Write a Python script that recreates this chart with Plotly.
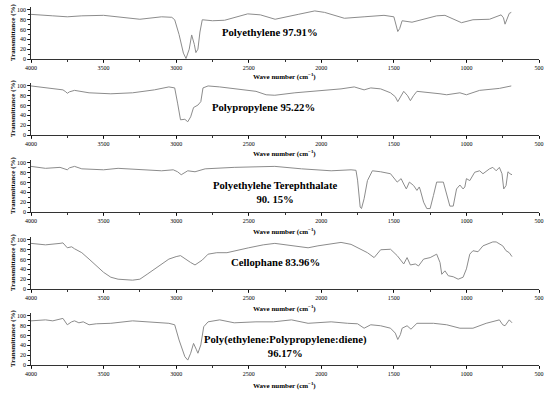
import plotly.graph_objects as go

# ---------------- data ----------------
pe_wn = [4000, 3900, 3850, 3750, 3650, 3500, 3400, 3250, 3100, 3030, 3010, 2980, 2950, 2932, 2910, 2893, 2875, 2864, 2850, 2836, 2820, 2750, 2666, 2600, 2507, 2420, 2350,
         2318, 2159, 2045, 1977, 1841, 1705, 1568, 1500, 1485, 1473, 1460, 1443, 1375, 1205, 1148, 1034, 955, 841, 761, 745, 734, 720, 705, 691]
pe_t = [91, 90, 88, 86, 88, 89, 86, 81, 86, 85, 80, 50, 12, 1, 20, 49, 30, 13, 20, 55, 80, 78, 79, 84, 92, 90, 84,
        81, 91, 98, 95, 83, 86, 89, 86, 72, 56, 62, 78, 75, 88, 89, 74, 80, 81, 90, 84, 71, 80, 93, 95]

pp_wn = [4000, 3900, 3830, 3780, 3760, 3750, 3735, 3700, 3600, 3450, 3300, 3150, 3050, 3010, 2990, 2970, 2940, 2920, 2900, 2880, 2850, 2830, 2815, 2780, 2700, 2600, 2450, 2380, 2320,
         2182, 2091, 1864, 1773, 1705, 1659, 1591, 1523, 1490, 1473, 1455, 1432, 1405, 1386, 1365, 1341, 1182, 1136, 1045, 1000, 909, 773, 691]
pp_t = [100, 96, 93, 92, 88, 85, 88, 91, 86, 84, 86, 92, 98, 96, 65, 31, 32, 27, 37, 56, 61, 68, 96, 100, 98, 94, 89, 82, 81,
        86, 88, 94, 98, 92, 96, 94, 86, 78, 68, 78, 89, 80, 70, 80, 89, 84, 82, 86, 82, 91, 95, 100]

pet_wn = [4000, 3900, 3800, 3765, 3750, 3735, 3700, 3650, 3500, 3400, 3250, 3100, 3020, 2990, 2965, 2940, 2920, 2870, 2800, 2600, 2400, 2320,
          2136, 1932, 1795, 1761, 1750, 1740, 1732, 1723, 1705, 1682, 1648, 1591, 1523, 1477, 1450, 1432, 1414, 1393, 1364, 1341, 1325, 1318, 1295, 1273, 1250, 1227, 1205, 1159,
          1136, 1114, 1091, 1068, 1045, 1023, 1011, 1000, 977, 943, 909, 886, 841, 818, 795, 773, 755, 743, 727, 714, 700, 686]
pet_t = [93, 89, 91, 88, 86, 90, 93, 88, 86, 89, 86, 84, 86, 82, 76, 80, 84, 82, 88, 91, 93, 93,
         88, 84, 86, 85, 65, 30, 10, 7, 27, 64, 84, 82, 78, 61, 68, 57, 47, 61, 54, 44, 51, 45, 20, 7, 7, 34, 61, 61,
         34, 12, 12, 47, 55, 47, 51, 68, 64, 81, 84, 78, 88, 91, 84, 91, 78, 47, 54, 82, 78, 76]

cel_wn = [4000, 3900, 3800, 3780, 3750, 3720, 3700, 3650, 3600, 3550, 3500, 3450, 3400, 3300, 3250, 3200, 3100, 3050, 3000, 2970, 2900, 2870, 2820, 2780, 2720, 2650, 2500, 2400, 2320,
          2182, 2091, 2023, 1864, 1795, 1750, 1682, 1636, 1591, 1523, 1477, 1432, 1409, 1386, 1352, 1330, 1295, 1250, 1205, 1182, 1170, 1148, 1125, 1091, 1057, 1023, 1000, 977, 955, 920, 886, 818, 795, 750, 727, 705, 686]
cel_t = [93, 90, 93, 94, 84, 86, 82, 74, 61, 47, 34, 24, 20, 18, 20, 30, 51, 61, 66, 68, 54, 49, 59, 71, 74, 74, 84, 90, 93,
         88, 84, 88, 95, 91, 84, 74, 64, 80, 81, 68, 51, 64, 49, 51, 47, 61, 64, 71, 54, 30, 37, 27, 25, 20, 24, 41, 71, 78, 76, 88, 96, 96, 88, 78, 74, 66]

epdm_wn = [4000, 3900, 3850, 3780, 3750, 3720, 3700, 3670, 3640, 3600, 3550, 3450, 3300, 3200, 3050, 3010, 2980, 2940, 2920, 2900, 2880, 2860, 2850, 2830, 2810, 2780, 2700, 2600, 2450, 2330,
           2205, 2091, 1932, 1818, 1750, 1705, 1659, 1591, 1523, 1490, 1473, 1455, 1443, 1409, 1382, 1341, 1227, 1136, 1045, 955, 864, 773, 750, 734, 705, 686]
epdm_t = [90, 92, 90, 95, 82, 88, 90, 86, 88, 82, 84, 85, 90, 88, 85, 82, 51, 17, 10, 24, 44, 31, 24, 41, 78, 88, 92, 86, 88, 88,
          92, 85, 88, 85, 84, 75, 82, 80, 75, 65, 52, 62, 75, 80, 73, 85, 85, 82, 75, 75, 85, 92, 82, 80, 92, 86]

x_ticks = [4000, 3500, 3000, 2500, 2000, 1500, 1000, 500]
y_ticks = [0, 20, 40, 60, 80, 100]

series = [
    (pe_wn, pe_t),
    (pp_wn, pp_t),
    (pet_wn, pet_t),
    (cel_wn, cel_t),
    (epdm_wn, epdm_t),
]
labels = [
    "Polyethylene 97.91%",
    "Polypropylene 95.22%",
    "Polyethylehe Terephthalate<br>90. 15%",
    "Cellophane 83.96%",
    "Poly(ethylene:Polypropylene:diene)<br>96.17%",
]

# ---------------- layout geometry (pixels) ----------------
W, H = 550, 394
L, R = 31, 11
zero_px = [59, 135, 212, 289, 365]
top_px = [7, 83, 160, 237, 313]
label_px = [(270, 32), (263, 107), (275, 192), (275, 262), (285, 346)]
title_px = [77, 154, 231, 308, 385]

FONT = "Liberation Serif, Times New Roman, serif"
LINE_COLOR = "#8c8c8c"

def fx(px):
    return (px - L) / (W - L - R)

def fy(py):
    return 1 - py / H

fig = go.Figure()
annotations = []
for i, (wn, t) in enumerate(series):
    n = i + 1
    xa = "x" if n == 1 else f"x{n}"
    ya = "y" if n == 1 else f"y{n}"
    fig.add_trace(go.Scatter(x=wn, y=t, mode="lines", xaxis=xa, yaxis=ya,
                             line=dict(color=LINE_COLOR, width=1), showlegend=False,
                             hoverinfo="skip"))
    xkey = "xaxis" if n == 1 else f"xaxis{n}"
    ykey = "yaxis" if n == 1 else f"yaxis{n}"
    fig.layout[xkey] = dict(
        range=[4000, 500], domain=[0, 1], anchor=ya, automargin=False,
        tickvals=x_ticks, ticks="outside", ticklen=3, tickwidth=0.8, tickcolor="black",
        minor=dict(dtick=250, ticks="outside", ticklen=2, tickcolor="black", tick0=500),
        showline=True, linecolor="black", linewidth=0.8, showgrid=False, zeroline=False,
        tickfont=dict(family=FONT, size=6, color="black"),
    )
    fig.layout[ykey] = dict(
        range=[0, 106], domain=[fy(zero_px[i]), fy(top_px[i])], anchor=xa, automargin=False,
        tickvals=y_ticks, ticks="outside", ticklen=3, tickwidth=0.8, tickcolor="black",
        minor=dict(dtick=10, ticks="outside", ticklen=2, tickcolor="black"),
        showline=True, linecolor="black", linewidth=0.8, showgrid=False, zeroline=False,
        tickfont=dict(family=FONT, size=6, color="black"),
    )
    lx, ly = label_px[i]
    annotations.append(dict(text=f"<b>{labels[i]}</b>", xref="paper", yref="paper",
                            x=fx(lx), y=fy(ly), xanchor="center", yanchor="middle",
                            showarrow=False, align="center",
                            font=dict(family=FONT, size=10.7, color="black")))
    annotations.append(dict(text="<b>Wave number (cm<sup>\u22121</sup>)</b>", xref="paper", yref="paper",
                            x=fx(284), y=fy(title_px[i]), xanchor="center", yanchor="middle",
                            showarrow=False, font=dict(family=FONT, size=7, color="black")))
    annotations.append(dict(text="<b>Transmittance (%)</b>", xref="paper", yref="paper",
                            x=fx(13), y=fy(zero_px[i] - 27), xanchor="center", yanchor="middle",
                            textangle=-90, showarrow=False,
                            font=dict(family=FONT, size=7, color="black")))

fig.update_layout(
    width=W, height=H,
    margin=dict(l=L, r=R, t=0, b=0),
    paper_bgcolor="white", plot_bgcolor="white",
    annotations=annotations,
    showlegend=False,
)

fig.write_html(
    "out.html",
    config={"displayModeBar": False, "staticPlot": True},
    post_script="document.body.style.margin='0';document.body.style.overflow='hidden';",
)
